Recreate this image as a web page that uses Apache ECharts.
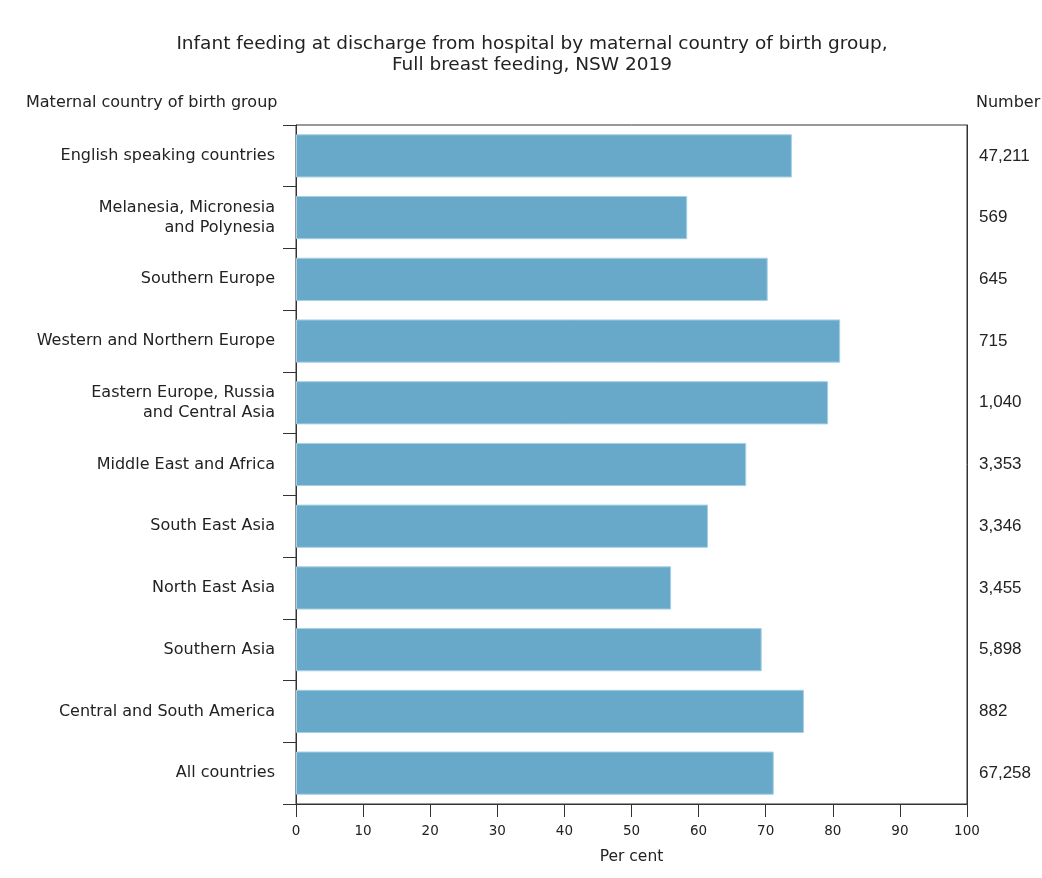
<!DOCTYPE html>
<html><head><meta charset="utf-8">
<script src="https://cdn.jsdelivr.net/npm/echarts@6/dist/echarts.min.js"></script>
<style>html,body{margin:0;padding:0;background:#fff}#c{width:1042px;height:878px}</style>
</head><body><div id="c"></div>
<script>
const categories = ["English speaking countries","Melanesia, Micronesia\nand Polynesia","Southern Europe","Western and Northern Europe","Eastern Europe, Russia\nand Central Asia","Middle East and Africa","South East Asia","North East Asia","Southern Asia","Central and South America","All countries"];
const percentValues = [73.9, 58.3, 70.3, 81.1, 79.3, 67.1, 61.4, 55.9, 69.4, 75.7, 71.2];
const numberLabels = ["47,211","569","645","715","1,040","3,353","3,346","3,455","5,898","882","67,258"];
const xTicks = [0,10,20,30,40,50,60,70,80,90,100];

const chart = echarts.init(document.getElementById('c'), null, {renderer:'canvas'});
const F = "'DejaVu Sans', Verdana, sans-serif";
const FA = "'Liberation Sans', Arial, sans-serif";
const xMin = xTicks[0], xMax = xTicks[xTicks.length-1];
chart.setOption({
  animation:false,
  backgroundColor:'#fff',
  title:{text:"Infant feeding at discharge from hospital by maternal country of birth group,\nFull breast feeding, NSW 2019",left:527,textAlign:'center',top:29,
    textStyle:{fontFamily:F,fontSize:18.5,fontWeight:'normal',color:'#222',lineHeight:21}},
  grid:[{left:296,right:75,top:125,bottom:74,show:true,borderColor:'#333',borderWidth:1},
        {left:296,right:75,top:804,height:13,show:false}],
  xAxis:[{type:'value',gridIndex:0,min:xMin,max:xMax,interval:10,position:'bottom',
    name:'Per cent',nameLocation:'middle',nameGap:45,nameTextStyle:{fontFamily:F,fontSize:15.5,color:'#222'},
    axisLine:{show:true,lineStyle:{color:'#333',width:1}},
    axisTick:{show:true,length:8,lineStyle:{color:'#333',width:1}},
    axisLabel:{fontFamily:F,fontSize:13.5,color:'#222',margin:20},splitLine:{show:false}},
   {type:'value',gridIndex:1,min:xMin,max:xMax,interval:10,
    axisLine:{show:false},axisLabel:{show:false},axisTick:{show:false},
    splitLine:{show:true,lineStyle:{color:'#333',width:1}}}],
  yAxis:[{type:'category',gridIndex:0,data:categories,inverse:true,
    axisLine:{show:true,lineStyle:{color:'#333'}},axisTick:{show:true,length:13,lineStyle:{color:'#333'}},
    axisLabel:{fontFamily:F,fontSize:16,color:'#222',margin:21,lineHeight:20,align:'right'}},
   {type:'category',gridIndex:0,data:numberLabels,inverse:true,position:'right',
    axisLine:{show:true,lineStyle:{color:'#333'}},axisTick:{show:false},
    axisLabel:{fontFamily:FA,fontSize:17,color:'#222',margin:12,align:'left'}},
   {type:'value',gridIndex:1,show:false}],
  graphic:[
    {type:'text',left:26,top:95,style:{text:'Maternal country of birth group',font:"16px 'DejaVu Sans', sans-serif",fill:'#222'}},
    {type:'text',left:976,top:95,style:{text:'Number',font:"16px 'DejaVu Sans', sans-serif",fill:'#222'}}
  ],
  series:[{type:'bar',data:percentValues,xAxisIndex:0,yAxisIndex:0,barCategoryGap:'30%',
    itemStyle:{color:'#68a9c9',borderColor:'#a6cfe3',borderWidth:1}}]
});
</script></body></html>
